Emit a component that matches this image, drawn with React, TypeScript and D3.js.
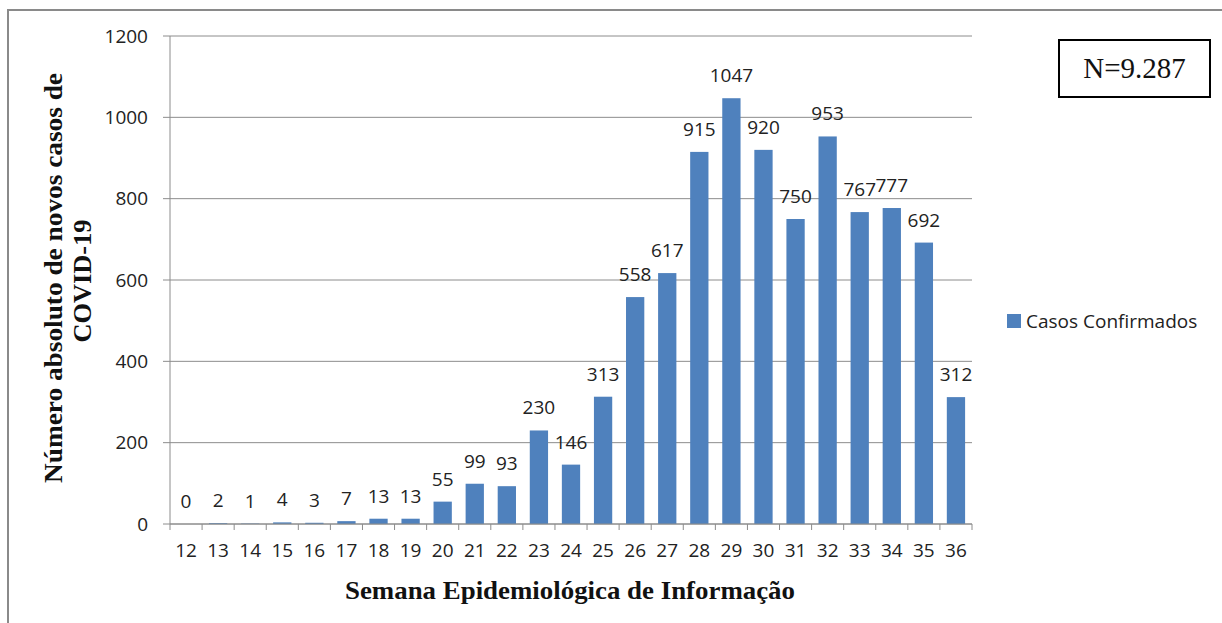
import React from "react";
import * as d3 from "d3";

const weeks = ["12","13","14","15","16","17","18","19","20","21","22","23","24","25","26","27","28","29","30","31","32","33","34","35","36"];
const cases = [0,2,1,4,3,7,13,13,55,99,93,230,146,313,558,617,915,1047,920,750,953,767,777,692,312];
const yTicks = [0,200,400,600,800,1000,1200];
const seriesName = "Casos Confirmados";
const yTitleLines = ["Número absoluto de novos casos de", "COVID-19"];
const xTitle = "Semana Epidemiológica de Informação";
const nLabel = "N=9.287";

const W = 1222, H = 623;
const plot = { left: 170, right: 972, top: 36, bottom: 524 };
const barColor = "#4F81BD";
const gridColor = "#8C8C8C";
const sansFont = "'Open Sans', 'Liberation Sans', sans-serif";
const serifFont = "'Liberation Serif', 'DejaVu Serif', serif";

export default function App() {
  const x = d3.scaleBand<string>().domain(weeks).range([plot.left, plot.right]).paddingInner(0.43).paddingOuter(0.215);
  const xb = d3.scaleBand<string>().domain(weeks).range([plot.left, plot.right]);
  const y = d3.scaleLinear().domain([0, 1200]).range([plot.bottom, plot.top]);

  return (
    <svg width={W} height={H} style={{ position: "absolute", left: 0, top: 0, display: "block", background: "#fff" }}>
      <rect x={8} y={10} width={W + 20} height={H + 20} fill="none" stroke="#8a8a8a" strokeWidth={2} />
      {yTicks.map((t) => (
        <g key={t}>
          <line x1={plot.left - 7} x2={plot.right} y1={y(t)} y2={y(t)} stroke={gridColor} strokeWidth={1} />
          <text x={plot.left - 22} y={y(t)} dy="0.35em" textAnchor="end" fontFamily={sansFont} fontSize={19} fill="#222">{t}</text>
        </g>
      ))}
      <line x1={plot.left} x2={plot.left} y1={plot.top} y2={plot.bottom} stroke={gridColor} strokeWidth={1} />
      {weeks.map((w, i) => (
        <rect key={w} x={x(w)} y={y(cases[i])} width={x.bandwidth()} height={plot.bottom - y(cases[i])} fill={barColor} />
      ))}
      {weeks.map((w) => (
        <line key={"t" + w} x1={xb(w)} x2={xb(w)} y1={plot.bottom} y2={plot.bottom + 6} stroke={gridColor} />
      ))}
      <line x1={plot.right} x2={plot.right} y1={plot.bottom} y2={plot.bottom + 6} stroke={gridColor} />
      <line x1={plot.left} x2={plot.right} y1={plot.bottom} y2={plot.bottom} stroke={gridColor} strokeWidth={1} />
      {weeks.map((w, i) => (
        <text key={"l" + w} x={xb(w)! + xb.bandwidth() / 2} y={y(cases[i]) - 16} textAnchor="middle" fontFamily={sansFont} fontSize={19} fill="#222">{cases[i]}</text>
      ))}
      {weeks.map((w) => (
        <text key={"x" + w} x={xb(w)! + xb.bandwidth() / 2} y={plot.bottom + 33} textAnchor="middle" fontFamily={sansFont} fontSize={19} fill="#222">{w}</text>
      ))}
      <text x={570} y={599} textAnchor="middle" fontFamily={serifFont} fontWeight="bold" fontSize={26} textLength={450} lengthAdjust="spacingAndGlyphs" fill="#111">{xTitle}</text>
      <text transform="translate(62,278) rotate(-90)" textAnchor="middle" fontFamily={serifFont} fontWeight="bold" fontSize={26} textLength={410} lengthAdjust="spacingAndGlyphs" fill="#111">{yTitleLines[0]}</text>
      <text transform="translate(91,281) rotate(-90)" textAnchor="middle" fontFamily={serifFont} fontWeight="bold" fontSize={26} textLength={123} lengthAdjust="spacingAndGlyphs" fill="#111">{yTitleLines[1]}</text>
      <rect x={1059} y={40} width={151} height={57} fill="#fff" stroke="#000" strokeWidth={2} />
      <text x={1134.5} y={78} textAnchor="middle" fontFamily={serifFont} fontSize={29} fill="#111">{nLabel}</text>
      <rect x={1007} y={314} width={14} height={14} fill={barColor} />
      <text x={1026} y={321} dy="0.35em" fontFamily={sansFont} fontSize={19} fill="#222">{seriesName}</text>
    </svg>
  );
}
